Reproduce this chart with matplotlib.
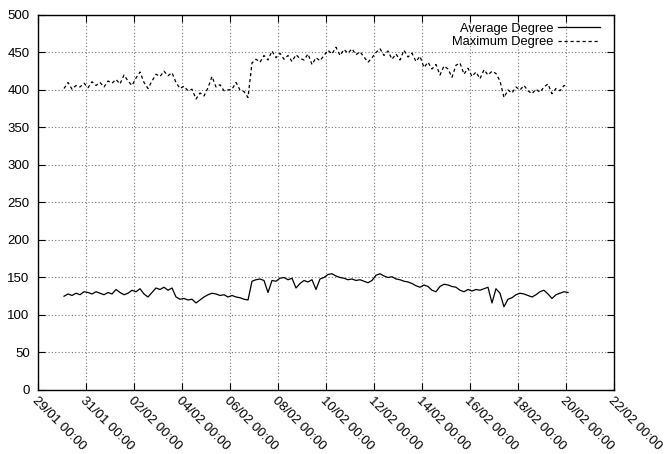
import matplotlib
matplotlib.use("Agg")
import matplotlib.pyplot as plt
import matplotlib.dates as mdates
import pandas as pd

# data: one sample every 4 hours, from 30/01 02:00 to 20/02 02:00
start = "2000-01-30 02:00"
step = "4h"

max_degree = [
    402, 410, 401, 406, 404, 409,
    403, 411, 406, 410, 404, 412,
    409, 414, 408, 420, 412, 406,
    416, 424, 410, 402, 412, 421,
    418, 425, 419, 423, 410, 402,
    405, 399, 401, 388, 396, 392,
    403, 418, 404, 407, 399, 400,
    401, 410, 400, 398, 390, 436,
    441, 437, 446, 440, 452, 443,
    449, 441, 446, 438, 447, 442,
    440, 448, 434, 443, 439, 446,
    453, 448, 457, 446, 454, 449,
    455, 447, 451, 444, 437, 443,
    450, 455, 446, 452, 441, 448,
    440, 453, 444, 449, 438, 445,
    430, 437, 428, 434, 420, 432,
    428, 417, 433, 436, 421, 429,
    418, 424, 415, 427, 420, 425,
    422, 412, 390, 400, 396, 404,
    400, 406, 399, 395, 401, 397,
    404, 408, 395, 402, 399, 406,
    405,
]

avg_degree = [
    125, 128, 126, 129, 127, 131,
    130, 128, 131, 129, 127, 130,
    128, 134, 130, 127, 129, 133,
    131, 135, 128, 124, 130, 136,
    134, 137, 133, 136, 124, 121,
    122, 120, 121, 116, 120, 124,
    127, 129, 128, 126, 127, 124,
    126, 124, 123, 121, 120, 145,
    147, 148, 146, 130, 146, 145,
    149, 150, 147, 149, 136, 142,
    146, 144, 147, 134, 148, 150,
    154, 155, 152, 150, 149, 147,
    148, 146, 147, 145, 143, 146,
    153, 155, 152, 150, 151, 148,
    147, 145, 144, 142, 139, 137,
    140, 138, 133, 131, 138, 141,
    140, 138, 137, 133, 131, 134,
    132, 134, 133, 135, 137, 116,
    135, 129, 111, 121, 123, 127,
    129, 128, 126, 124, 127, 131,
    133, 128, 122, 127, 129, 131,
    130,
]

times = pd.date_range(start, periods=len(avg_degree), freq=step)

plt.rcParams["font.family"] = ["Liberation Sans", "DejaVu Sans"]
plt.rcParams["font.size"] = 9.5

fig = plt.figure(figsize=(6.67, 4.54), dpi=100)
ax = fig.add_axes([0.057, 0.141, 0.8635, 0.826])

ax.plot(times, avg_degree, color="black", lw=0.9, label="Average Degree")
ax.plot(times, max_degree, color="black", lw=0.9, dashes=(2.6, 2.2), label="Maximum Degree")

ax.set_xlim(pd.Timestamp("2000-01-29"), pd.Timestamp("2000-02-22"))
ax.set_ylim(0, 500)
ax.set_yticks(range(0, 501, 50))
ax.set_xticks(pd.date_range("2000-01-29", "2000-02-22", freq="2D"))
ax.xaxis.set_major_formatter(mdates.DateFormatter("%d/%m %H:%M"))
for lbl in ax.get_xticklabels():
    lbl.set_rotation(-45)
    lbl.set_ha("left")
    lbl.set_va("top")
    lbl.set_rotation_mode("anchor")

ax.tick_params(direction="in", length=5, top=True, right=True, width=0.8)
ax.tick_params(axis="x", pad=3)
ax.tick_params(axis="y", pad=6)
ax.grid(True, color="#777777", linestyle=(0, (1, 2)), linewidth=0.8)
for s in ax.spines.values():
    s.set_linewidth(1.0)

ax.legend(loc="upper right", bbox_to_anchor=(0.976, 0.979), frameon=False,
          markerfirst=False, handlelength=3.3, borderaxespad=0, borderpad=0,
          labelspacing=0.1, handletextpad=0.3, fontsize=9.3)

fig.savefig("out.png", dpi=100)
